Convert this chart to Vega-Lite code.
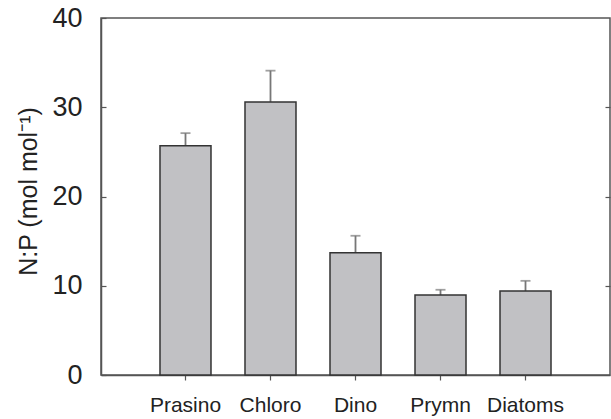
{
  "$schema": "https://vega.github.io/schema/vega-lite/v6.json",
  "width": 509,
  "height": 357,
  "autosize": {"type": "none"},
  "padding": {"left": 101, "top": 18, "right": 1, "bottom": 44},
  "background": "white",
  "config": {
    "font": "Liberation Sans",
    "view": {"stroke": "#555", "strokeWidth": 1.5},
    "axis": {"grid": false, "domainColor": "#555", "domainWidth": 1.5, "tickColor": "#555", "tickWidth": 1.2, "labelColor": "#222", "titleColor": "#222", "titleFontWeight": "normal"}
  },
  "data": {
    "values": [
      {"group": "Prasino", "np": 25.7, "upper": 27.1},
      {"group": "Chloro", "np": 30.6, "upper": 34.1},
      {"group": "Dino", "np": 13.7, "upper": 15.6},
      {"group": "Prymn", "np": 8.95, "upper": 9.55},
      {"group": "Diatoms", "np": 9.4, "upper": 10.55}
    ]
  },
  "encoding": {
    "x": {
      "field": "group", "type": "nominal", "sort": null,
      "scale": {"paddingInner": 0.4, "paddingOuter": 0.694},
      "axis": {"title": null, "labelAngle": 0, "labelFontSize": 21, "labelPadding": 14, "tickSize": 5, "domain": true}
    }
  },
  "layer": [
    {
      "mark": {"type": "rule", "color": "#777", "strokeWidth": 1.8},
      "encoding": {
        "y": {"field": "np", "type": "quantitative", "axis": null},
        "y2": {"field": "upper"}
      }
    },
    {
      "mark": {"type": "tick", "color": "#777", "size": 10, "thickness": 1.8},
      "encoding": {
        "y": {"field": "upper", "type": "quantitative", "scale": {"domain": [0, 40], "nice": false},
          "axis": {"orient": "right", "title": null, "labels": false, "domain": false, "tickSize": -5, "values": [10, 20, 30]}}
      }
    },
    {
      "mark": {"type": "bar", "fill": "#c1c1c4", "stroke": "#333", "strokeWidth": 1.5},
      "encoding": {
        "y": {"field": "np", "type": "quantitative", "scale": {"domain": [0, 40], "nice": false},
          "axis": {"orient": "left", "title": "N:P (mol mol⁻¹)", "titleFontSize": 25, "titleX": -60, "titleY": 173, "labelFontSize": 27, "labelPadding": 24, "tickSize": -5, "values": [0, 10, 20, 30, 40]}}
      }
    }
  ],
  "resolve": {"axis": {"y": "independent"}, "scale": {"y": "shared"}}
}
